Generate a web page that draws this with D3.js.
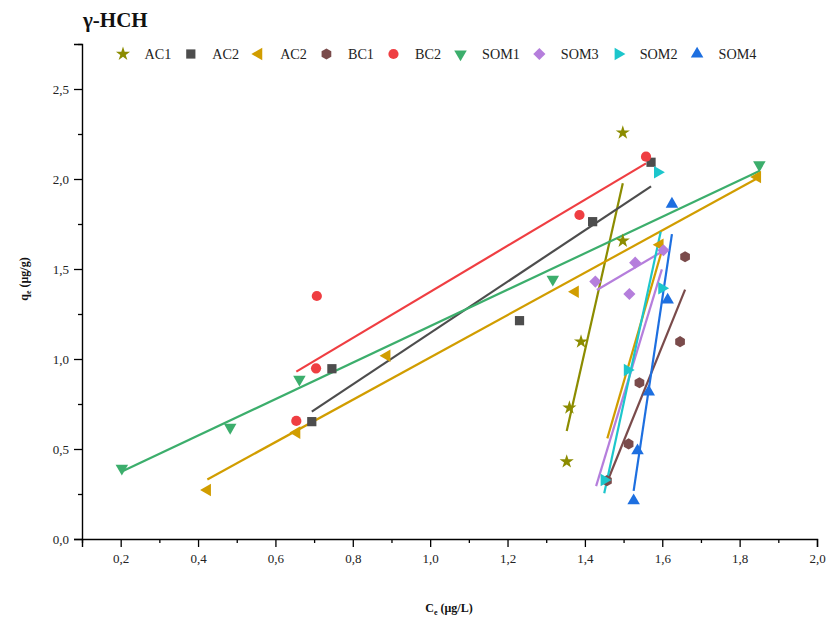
<!DOCTYPE html>
<html><head><meta charset="utf-8">
<script src="https://cdn.jsdelivr.net/npm/d3@7"></script>
<style>
body{margin:0;background:#fff;}
text{font-family:"Liberation Serif","Times New Roman",serif;}
</style></head>
<body><svg id="c" width="827" height="627"></svg>
<script>
// ---------- data ----------
const seriesNames = ["AC1","AC2","AC2","BC1","BC2","SOM1","SOM3","SOM2","SOM4"];
const ac1X  = [1.353,1.360,1.390,1.498,1.498];
const ac1Y  = [0.430,0.729,1.096,1.656,2.257];
const ac2sX = [0.694,0.746,1.231,1.420,1.571];
const ac2sY = [0.652,0.946,1.213,1.763,2.093];
const ac2tX = [0.424,0.655,0.888,1.375,1.846,1.594];
const ac2tY = [0.272,0.591,1.018,1.374,2.011,1.635];
const bc1X  = [1.457,1.513,1.541,1.646,1.659];
const bc1Y  = [0.324,0.528,0.868,1.096,1.568];
const bc2X  = [0.654,0.705,0.707,1.386,1.558];
const bc2Y  = [0.656,0.948,1.350,1.800,2.124];
const som1X = [0.203,0.483,0.662,1.317,1.851];
const som1Y = [0.393,0.620,0.887,1.443,2.078];
const som3X = [1.427,1.515,1.530,1.603];
const som3Y = [1.430,1.361,1.535,1.604];
const som2X = [1.450,1.510,1.599,1.588];
const som2Y = [0.328,0.939,1.393,2.037];
const som4X = [1.526,1.536,1.565,1.614,1.625];
const som4Y = [0.213,0.491,0.818,1.328,1.861];
// fitted lines: series index, start (x,y), end (x,y)
const fitSeries = [0,1,2,2,3,4,5,6,6,7,8];
const fitX0 = [1.353,0.694,0.424,1.458,1.457,0.654,0.203,1.431,1.429,1.450,1.526];
const fitY0 = [0.600,0.708,0.331,0.559,0.314,0.930,0.375,1.383,0.294,0.254,0.267];
const fitX1 = [1.498,1.571,1.846,1.601,1.659,1.558,1.851,1.599,1.599,1.596,1.625];
const fitY1 = [1.976,1.959,2.004,1.617,1.385,2.087,2.044,1.596,1.498,1.707,1.694];
const xTicks = [0.2,0.4,0.6,0.8,1.0,1.2,1.4,1.6,1.8,2.0];
const xMinor = [0.1,0.3,0.5,0.7,0.9,1.1,1.3,1.5,1.7,1.9];
const yTicks = [0,0.5,1.0,1.5,2.0,2.5];
const yMinor = [0.25,0.75,1.25,1.75,2.25,2.75];

// ---------- styles ----------
const colors  = ["#8c8c00","#4d4d4d","#d19d00","#7a4b4b","#ef3e42","#3cae6c","#b57edc","#1cc6cc","#1d6fe0"];
const markers = ["star","square","triLeft","hexagon","circle","triDown","diamond","triRight","triUp"];

const xsAll = [ac1X,ac2sX,ac2tX,bc1X,bc2X,som1X,som3X,som2X,som4X];
const ysAll = [ac1Y,ac2sY,ac2tY,bc1Y,bc2Y,som1Y,som3Y,som2Y,som4Y];

const svg = d3.select("#c");
const x = d3.scaleLinear().domain([0.1,2.0]).range([82,817]);
const y = d3.scaleLinear().domain([0,2.75]).range([539,44]);
const fmt = v => d3.format(".1f")(v).replace(".",",");

function markerPath(type){
  switch(type){
    case "star": return {d:d3.symbol(d3.symbolStar,62)(), rot:0};
    case "square": return {d:d3.symbol(d3.symbolSquare,85)(), rot:0};
    case "circle": return {d:d3.symbol(d3.symbolCircle,82)(), rot:0};
    case "diamond": return {d:d3.symbol(d3.symbolSquare,74)(), rot:45};
    case "triUp": return {d:d3.symbol(d3.symbolTriangle,68)(), rot:0};
    case "triDown": return {d:d3.symbol(d3.symbolTriangle,68)(), rot:180};
    case "triLeft": return {d:d3.symbol(d3.symbolTriangle,68)(), rot:-90};
    case "triRight": return {d:d3.symbol(d3.symbolTriangle,68)(), rot:90};
    case "hexagon": {
      const r=5.6, pts=d3.range(6).map(i=>{const a=Math.PI/6+i*Math.PI/3;return [r*Math.cos(a),r*Math.sin(a)];});
      return {d:"M"+pts.map(p=>p.join(",")).join("L")+"Z", rot:0};
    }
  }
}

// ---------- axes ----------
const gx = svg.append("g").attr("transform","translate(0,539)");
gx.call(d3.axisBottom(x).tickValues(xTicks).tickSize(8).tickPadding(7).tickFormat(fmt));
const gxm = svg.append("g").attr("transform","translate(0,539)");
gxm.call(d3.axisBottom(x).tickValues(xMinor).tickSize(4).tickFormat(""));
const gy = svg.append("g").attr("transform","translate(82,0)");
gy.call(d3.axisLeft(y).tickValues(yTicks).tickSize(8).tickPadding(5).tickFormat(fmt));
const gym = svg.append("g").attr("transform","translate(82,0)");
gym.call(d3.axisLeft(y).tickValues(yMinor).tickSize(4).tickFormat(""));
[gx,gxm,gy,gym].forEach(g=>{
  g.selectAll(".domain").attr("stroke","#000").attr("stroke-width",1.4);
  g.selectAll(".tick line").attr("stroke","#000").attr("stroke-width",1.3);
  g.selectAll(".tick text").attr("font-family","Liberation Serif, Times New Roman, serif").attr("font-size",13).attr("fill","#222");
});
gxm.select(".domain").remove(); gym.select(".domain").remove();

// ---------- fit lines ----------
svg.append("g").selectAll("line").data(fitSeries).join("line")
  .attr("x1",(s,i)=>x(fitX0[i])).attr("y1",(s,i)=>y(fitY0[i]))
  .attr("x2",(s,i)=>x(fitX1[i])).attr("y2",(s,i)=>y(fitY1[i]))
  .attr("stroke",s=>colors[s]).attr("stroke-width",2.2);

// ---------- markers ----------
xsAll.forEach((xs,s)=>{
  const m = markerPath(markers[s]);
  svg.append("g").selectAll("path").data(xs).join("path")
    .attr("d",m.d)
    .attr("transform",(v,i)=>`translate(${x(v)},${y(ysAll[s][i])}) rotate(${m.rot})`)
    .attr("fill",colors[s]);
});

// ---------- title ----------
svg.append("text").attr("x",83).attr("y",27).attr("font-size",21).attr("font-weight","bold")
  .attr("fill","#111").text("γ-HCH");

// ---------- legend ----------
const lg = svg.append("g");
let lx = 123;
seriesNames.forEach((name,s)=>{
  const m = markerPath(markers[s]);
  lg.append("path").attr("d",m.d).attr("transform",`translate(${lx},54) rotate(${m.rot})`).attr("fill",colors[s]);
  const t = lg.append("text").attr("x",lx+21.5).attr("y",59).attr("font-size",14.2).attr("fill","#222").text(name);
  const w = t.node().getComputedTextLength();
  lx = lx + 21.5 + w + 19.5;
});

// ---------- axis titles ----------
const xt = svg.append("text").attr("x",449).attr("y",612).attr("text-anchor","middle")
  .attr("font-size",12).attr("font-weight","bold").attr("fill","#111");
xt.append("tspan").text("C");
xt.append("tspan").attr("font-size",8).attr("dy",3).text("e");
xt.append("tspan").attr("dy",-3).text(" (μg/L)");
const yt = svg.append("text").attr("transform","translate(28,279) rotate(-90)").attr("text-anchor","middle")
  .attr("font-size",12).attr("font-weight","bold").attr("fill","#111");
yt.append("tspan").text("q");
yt.append("tspan").attr("font-size",8).attr("dy",3).text("e");
yt.append("tspan").attr("dy",-3).text(" (μg/g)");
</script></body></html>
